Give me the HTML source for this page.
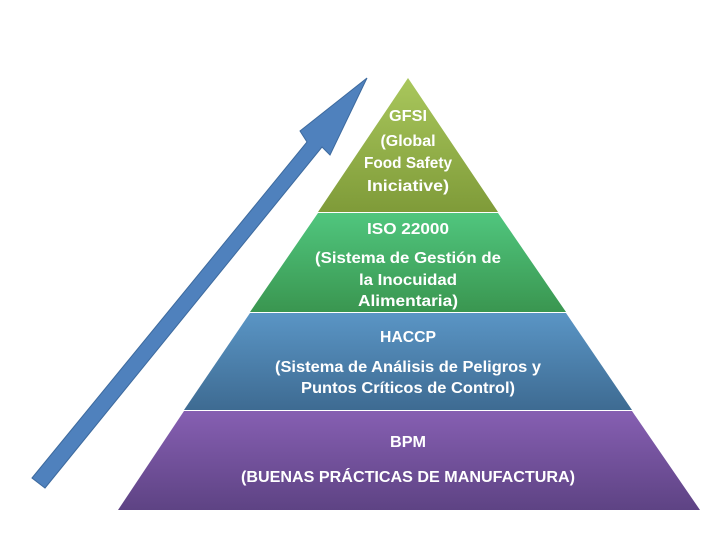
<!DOCTYPE html>
<html><head><meta charset="utf-8"><style>
html,body{margin:0;padding:0;background:#fff;width:713px;height:552px;overflow:hidden}
svg text{font-family:"Liberation Sans",sans-serif;font-weight:bold;fill:#fff;font-size:16px;text-anchor:middle}
</style></head><body>
<svg width="713" height="552" viewBox="0 0 713 552" xmlns="http://www.w3.org/2000/svg">
<defs>
<linearGradient id="g1" x1="0" y1="0" x2="0" y2="1"><stop offset="0" stop-color="#a9c75c"/><stop offset="1" stop-color="#7f9b39"/></linearGradient>
<linearGradient id="g2" x1="0" y1="0" x2="0" y2="1"><stop offset="0" stop-color="#50c67e"/><stop offset="1" stop-color="#3a9650"/></linearGradient>
<linearGradient id="g3" x1="0" y1="0" x2="0" y2="1"><stop offset="0" stop-color="#5a95c5"/><stop offset="1" stop-color="#3e6b92"/></linearGradient>
<linearGradient id="g4" x1="0" y1="0" x2="0" y2="1"><stop offset="0" stop-color="#865fb2"/><stop offset="1" stop-color="#5e4384"/></linearGradient>
</defs>
<polygon points="32,478 307,142 300,131 367,78 330,155 322,147 45,488" fill="#4f81bd" stroke="#3d6a9e" stroke-width="1"/>
<polygon points="408,78 498,212 318,212" fill="url(#g1)"/>
<polygon points="318,213 498,213 566,312 250,312" fill="url(#g2)"/>
<polygon points="250,313 566,313 632,410 184,410" fill="url(#g3)"/>
<polygon points="184,411 632,411 700,510 118,510" fill="url(#g4)"/>
<text x="408" y="121" textLength="38" lengthAdjust="spacingAndGlyphs">GFSI</text>
<text x="408" y="146">(Global</text>
<text x="408" y="168" textLength="88" lengthAdjust="spacingAndGlyphs">Food Safety</text>
<text x="408" y="191" textLength="82" lengthAdjust="spacingAndGlyphs">Iniciative)</text>
<text x="408" y="234" textLength="82" lengthAdjust="spacingAndGlyphs">ISO 22000</text>
<text x="408" y="263" textLength="186" lengthAdjust="spacingAndGlyphs">(Sistema de Gestión de</text>
<text x="408" y="285" textLength="98" lengthAdjust="spacingAndGlyphs">la Inocuidad</text>
<text x="408" y="306" textLength="100" lengthAdjust="spacingAndGlyphs">Alimentaria)</text>
<text x="408" y="342" textLength="56" lengthAdjust="spacingAndGlyphs">HACCP</text>
<text x="408" y="372" textLength="266" lengthAdjust="spacingAndGlyphs">(Sistema de Análisis de Peligros y</text>
<text x="408" y="393" textLength="214" lengthAdjust="spacingAndGlyphs">Puntos Críticos de Control)</text>
<text x="408" y="447" textLength="36" lengthAdjust="spacingAndGlyphs">BPM</text>
<text x="408" y="482" textLength="334" lengthAdjust="spacingAndGlyphs">(BUENAS PRÁCTICAS DE MANUFACTURA)</text>
</svg>
</body></html>
